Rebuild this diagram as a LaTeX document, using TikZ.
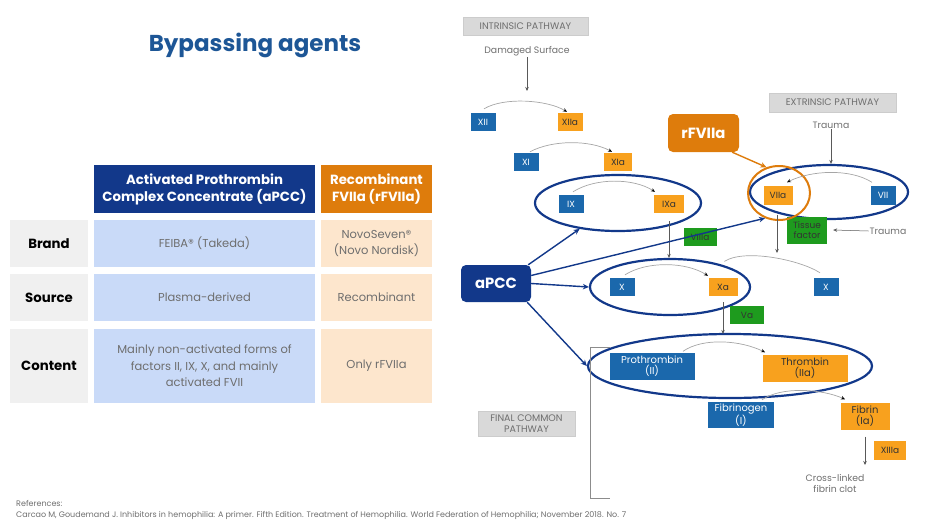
\documentclass[tikz,border=0pt]{standalone}
\usepackage{fontspec}
\setmainfont{Poppins}
\usetikzlibrary{arrows.meta,shapes.geometric}

\definecolor{navy}{HTML}{12388A}
\definecolor{titleblue}{HTML}{1D5696}
\definecolor{fblue}{HTML}{1B68AC}
\definecolor{forange}{HTML}{F8A11E}
\definecolor{horange}{HTML}{DE7C0C}
\definecolor{fgreen}{HTML}{1E9B1E}
\definecolor{cellblue}{HTML}{C9DAF8}
\definecolor{cellorange}{HTML}{FDE6CD}
\definecolor{lblgray}{HTML}{F0F0F0}
\definecolor{pwgray}{HTML}{D9D9D9}
\definecolor{txtgray}{HTML}{6E6E6E}

\begin{document}
\begin{tikzpicture}[x=1pt,y=-1pt,
  hdr/.style={text=white, font=\bfseries\fontsize{13.3}{17}\selectfont, align=center, inner sep=0pt, minimum height=48pt},
  rowlbl/.style={fill=lblgray, font=\bfseries\fontsize{13.3}{16}\selectfont, minimum width=78pt, inner sep=0pt},
  cellA/.style={fill=cellblue, text=txtgray, font=\fontsize{11.5}{16.5}\selectfont, align=center, minimum width=221pt, inner sep=0pt},
  cellB/.style={fill=cellorange, text=txtgray, font=\fontsize{11.5}{16.5}\selectfont, align=center, minimum width=111pt, inner sep=0pt},
  fac/.style={minimum width=25pt, minimum height=18pt, inner sep=0pt, font=\fontsize{9}{9}\selectfont, align=center},
  fb/.style={fac, fill=fblue, text=white},
  fo/.style={fac, fill=forange, text=black!80},
  fg/.style={fac, fill=fgreen, text=black!80},
  pwbox/.style={fill=pwgray, draw=black!20, text=txtgray, font=\fontsize{9.5}{11.5}\selectfont, align=center, inner sep=0pt},
  lbl/.style={text=txtgray, font=\fontsize{9.3}{11}\selectfont, align=center, inner sep=1pt},
  ring/.style={ellipse, draw=navy, line width=2.2pt, inner sep=0pt},
  oring/.style={ellipse, draw=horange, line width=2pt, inner sep=0pt},
  garr/.style={draw=black!65, line width=0.5pt, -{Stealth[length=4pt,width=3.5pt]}},
  arcln/.style={draw=black!35, line width=0.7pt, -{Stealth[length=4pt,width=3.5pt,black]}},
  navyarr/.style={draw=navy, line width=1.4pt, -{Stealth[length=6pt,width=5.5pt]}},
  agent/.style={rounded corners=5pt, text=white, font=\bfseries\fontsize{14.8}{17}\selectfont, inner sep=0pt},
  reftxt/.style={anchor=west, text=txtgray, font=\fontsize{8}{9}\selectfont, inner sep=0pt}
]
\useasboundingbox (0,0) rectangle (940,528);

% ---------- title and comparison table ----------
\node[text=titleblue, font=\bfseries\fontsize{23}{26}\selectfont] (title) at (255,45) {Bypassing agents};

\node[hdr, fill=navy, minimum width=221pt] (hA) at (204.5,189) {Activated Prothrombin\\Complex Concentrate (aPCC)};
\node[hdr, fill=horange, minimum width=111pt] (hB) at (376.5,189) {Recombinant\\FVIIa (rFVIIa)};

\node[rowlbl, minimum height=47pt] (rBrand) at (49,243.5) {Brand};
\node[rowlbl, minimum height=47pt] (rSource) at (49,297.5) {Source};
\node[rowlbl, minimum height=74pt] (rContent) at (49,366) {Content};

\node[cellA, minimum height=47pt] (aBrand) at (204.5,243.5) {FEIBA® (Takeda)};
\node[cellA, minimum height=47pt] (aSource) at (204.5,297.5) {Plasma-derived};
\node[cellA, minimum height=74pt] (aContent) at (204.5,366) {Mainly non-activated forms of\\factors II, IX, X, and mainly\\activated FVII};

\node[cellB, minimum height=47pt] (bBrand) at (376.5,243.5) {NovoSeven®\\(Novo Nordisk)};
\node[cellB, minimum height=47pt] (bSource) at (376.5,297.5) {Recombinant};
\node[cellB, minimum height=74pt] (bContent) at (376.5,366) {Only rFVIIa};

% ---------- references ----------
\node[reftxt] (refhead) at (16,503) {References:};
\node[reftxt] (reftext) at (16,515) {Carcao M, Goudemand J. Inhibitors in hemophilia: A primer. Fifth Edition. Treatment of Hemophilia. World Federation of Hemophilia; November 2018. No. 7};

% ---------- coagulation cascade: pathway labels ----------
\node[pwbox, minimum width=125pt, minimum height=18pt] (intr) at (525.5,26) {INTRINSIC PATHWAY};
\node[pwbox, minimum width=127pt, minimum height=19pt] (extr) at (832.5,102.5) {EXTRINSIC PATHWAY};
\node[pwbox, minimum width=97pt, minimum height=25pt] (fcp) at (526.5,423.5) {FINAL COMMON\\PATHWAY};

\node[lbl] (dmg) at (527,51) {Damaged Surface};
\node[lbl] (trauma1) at (831,125) {Trauma};
\node[lbl] (trauma2) at (888,231) {Trauma};
\node[lbl] (clot) at (835,483) {Cross-linked\\fibrin clot};

% ---------- grouping rings ----------
\node[ring, minimum width=166pt, minimum height=56pt] (e1) at (618,203) {};
\node[ring, minimum width=160pt, minimum height=56pt] (e2) at (670,287) {};
\node[ring, minimum width=158pt, minimum height=54pt] (e3) at (829,192) {};
\node[ring, minimum width=284pt, minimum height=64pt] (e4) at (730,366) {};

% ---------- factors ----------
\node[fb] (XII) at (483,122) {XII};
\node[fo] (XIIa) at (570,122) {XIIa};
\node[fb] (XI) at (526,162) {XI};
\node[fo, minimum width=28pt] (XIa) at (618,162) {XIa};
\node[fb] (IX) at (571,204) {IX};
\node[fo, minimum width=30pt] (IXa) at (669,204) {IXa};
\node[fg, minimum width=33pt] (VIIIa) at (700,237) {VIIIa};
\node[fb] (X1) at (622,287) {X};
\node[fo, minimum width=29pt] (Xa) at (723,287) {Xa};
\node[fg, minimum width=34pt] (Va) at (747,315) {Va};
\node[fb] (X2) at (826,287) {X};
\node[fo, minimum width=29pt, minimum height=19pt] (VIIa) at (778,195) {VIIa};
\node[fb, minimum height=19pt] (VII) at (883,195) {VII};
\node[fg, minimum width=40pt, minimum height=27pt, font=\fontsize{9}{10}\selectfont] (TF) at (807,230) {Tissue\\factor};
\node[fb, minimum width=85pt, minimum height=27pt, font=\fontsize{10}{11.5}\selectfont] (Prot) at (652,366) {Prothrombin\\(II)};
\node[fo, minimum width=85pt, minimum height=27pt, font=\fontsize{10}{11.5}\selectfont] (Throm) at (805,368) {Thrombin\\(IIa)};
\node[fb, minimum width=66pt, minimum height=26pt, font=\fontsize{10}{11.5}\selectfont] (Fibgn) at (741,415) {Fibrinogen\\(I)};
\node[fo, minimum width=49pt, minimum height=27pt, font=\fontsize{10}{11.5}\selectfont] (Fibrin) at (865,416) {Fibrin\\(Ia)};
\node[fo, minimum width=32pt, minimum height=19pt] (XIIIa) at (890,450) {XIIIa};

\node[oring, minimum width=62pt, minimum height=54pt] (c7) at (779,193) {};

% ---------- bypassing agents ----------
\node[agent, fill=horange, minimum width=71pt, minimum height=38pt] (rF) at (703.5,133) {rFVIIa};
\node[agent, fill=navy, minimum width=70pt, minimum height=37pt] (aPCC) at (496,283.5) {aPCC};

% ---------- activation arcs ----------
\draw[arcln] ([shift={(1,-4)}]XII.north) .. controls +(20,-12) and +(-20,-12) .. ([shift={(-3,-1)}]XIIa.north);
\draw[arcln] ([shift={(4,-1)}]XI.north) .. controls +(22,-12) and +(-22,-12) .. ([shift={(-6,-1)}]XIa.north);
\draw[arcln] ([shift={(2,-3)}]IX.north) .. controls +(22,-14) and +(-22,-14) .. ([shift={(-14,-3)}]IXa.north);
\draw[arcln] ([shift={(3,-3)}]X1.north) .. controls +(22,-14) and +(-22,-14) .. ([shift={(-15,-2)}]Xa.north);
\draw[draw=black!35, line width=0.7pt] ([shift={(-6,-5)}]X2.north) .. controls +(-20,-13) and +(20,-13) .. ([shift={(-3,-5)}]e2.north east);
\draw[arcln] ([shift={(-11,-3)}]VII.north) .. controls +(-22,-14) and +(24,-12) .. ([shift={(9,-3)}]VIIa.north);
\draw[arcln] ([shift={(31,-1)}]Prot.north) .. controls +(20,-14) and +(-24,-12) .. ([shift={(-40,-2)}]Throm.north);
\draw[arcln] ([shift={(21,-2)}]Fibgn.north) .. controls +(20,-14) and +(-22,-10) .. ([shift={(-20,-3)}]Fibrin.north);

% ---------- cascade arrows ----------
\coordinate (dmgEnd) at (527,91);
\coordinate (viiEnd) at (777,253);
\coordinate (fibEnd) at (865,465);
\draw[garr] (dmg) -- (dmgEnd);
\draw[garr] ([yshift=-8pt]IXa.south) -- (IXa |- e2.north);
\draw[garr] ([yshift=-6pt]Xa.south) -- ([yshift=-1pt]Xa |- e4.north);
\draw[garr] ([xshift=-1pt,yshift=-10pt]VIIa.south) -- (viiEnd);
\draw[garr] ([yshift=-7pt]Fibrin.south) -- (fibEnd);
\draw[garr] (trauma1) -- (trauma1 |- e3.north);
\draw[garr] (trauma2.west) -- ([xshift=6pt]TF.east);

% bracket of the common pathway
\draw[black!45, line width=0.6pt] (610,347) -- (590,347) -- (590,498) -- (610,498);

% ---------- where the agents act ----------
\draw[draw=horange, line width=1.4pt, -{Stealth[length=6pt,width=5.5pt]}] ([xshift=-7pt]rF.south east) -- (c7.116);
\draw[navyarr] ([xshift=-3pt]aPCC.north east) -- (e1.214);
\draw[navyarr] ([yshift=8pt]aPCC.east) -- (c7.241);
\draw[navyarr] (aPCC.east) -- (e2.west);
\draw[navyarr] ([xshift=-4pt]aPCC.south east) -- (e4.west);
\end{tikzpicture}
\end{document}
